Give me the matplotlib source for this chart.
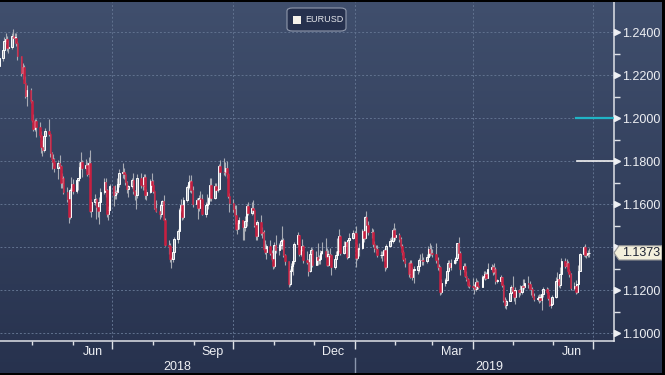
import numpy as np
import pandas as pd
import matplotlib
matplotlib.use('Agg')
import matplotlib.pyplot as plt
import matplotlib.dates as mdates
import matplotlib.transforms as mtransforms
from matplotlib.colors import LinearSegmentedColormap
from matplotlib.patches import Polygon, FancyBboxPatch, Rectangle
from matplotlib.lines import Line2D

plt.rcParams['font.family'] = ['Liberation Sans', 'DejaVu Sans']

# EURUSD daily candles, one line per week
days = pd.bdate_range('2018-04-05', '2019-06-28')

opens = [
    1.2275, 1.2240,
    1.2280, 1.2318, 1.2357, 1.2370, 1.2328,
    1.2330, 1.2381, 1.2373, 1.2374, 1.2347,
    1.2288, 1.2210, 1.2236, 1.2165, 1.2105,
    1.2130, 1.2078, 1.1991, 1.1951, 1.1985,
    1.1960, 1.1923, 1.1866, 1.1851, 1.1916,
    1.1940, 1.1926, 1.1837, 1.1808, 1.1795,
    1.1768, 1.1789, 1.1778, 1.1696, 1.1722,
    1.1655, 1.1625, 1.1538, 1.1664, 1.1693,
    1.1659, 1.1714, 1.1720, 1.1773, 1.1796,
    1.1767, 1.1780, 1.1741, 1.1789, 1.1570,
    1.1610, 1.1623, 1.1585, 1.1569, 1.1608,
    1.1657, 1.1703, 1.1664, 1.1556, 1.1573,
    1.1684, 1.1644, 1.1658, 1.1655, 1.1694,
    1.1743, 1.1749, 1.1742, 1.1702, 1.1669,
    1.1686, 1.1710, 1.1661, 1.1642, 1.1644,
    1.1719, 1.1690, 1.1683, 1.1727, 1.1641,
    1.1658, 1.1707, 1.1690, 1.1660, 1.1584,
    1.1567, 1.1552, 1.1597, 1.1613, 1.1526,
    1.1410, 1.1404, 1.1345, 1.1346, 1.1378,
    1.1437, 1.1476, 1.1572, 1.1596, 1.1539,
    1.1620, 1.1679, 1.1701, 1.1707, 1.1667,
    1.1601, 1.1620, 1.1581, 1.1626, 1.1623,
    1.1552, 1.1595, 1.1598, 1.1627, 1.1690,
    1.1626, 1.1685, 1.1667, 1.1669, 1.1777,
    1.1750, 1.1747, 1.1766, 1.1740, 1.1638,
    1.1604, 1.1578, 1.1549, 1.1482, 1.1512,
    1.1524, 1.1491, 1.1491, 1.1523, 1.1593,
    1.1559, 1.1581, 1.1573, 1.1502, 1.1451,
    1.1515, 1.1465, 1.1469, 1.1390, 1.1375,
    1.1404, 1.1372, 1.1345, 1.1312, 1.1408,
    1.1388, 1.1408, 1.1428, 1.1432, 1.1364,
    1.1335, 1.1226, 1.1290, 1.1310, 1.1335,
    1.1415, 1.1454, 1.1369, 1.1384, 1.1404,
    1.1338, 1.1329, 1.1290, 1.1367, 1.1388,
    1.1315, 1.1352, 1.1342, 1.1344, 1.1374,
    1.1381, 1.1355, 1.1317, 1.1369, 1.1363,
    1.1306, 1.1346, 1.1362, 1.1381, 1.1450,
    1.1371, 1.1404, 1.1422, 1.1352, 1.1431,
    1.1443, 1.1467, 1.1464, 1.1347, 1.1391,
    1.1395, 1.1475, 1.1443, 1.1539, 1.1502,
    1.1468, 1.1472, 1.1412, 1.1395, 1.1389,
    1.1362, 1.1362, 1.1364, 1.1384, 1.1307,
    1.1405, 1.1429, 1.1429, 1.1478, 1.1448,
    1.1456, 1.1438, 1.1405, 1.1379, 1.1343,
    1.1325, 1.1276, 1.1327, 1.1261, 1.1295,
    1.1295, 1.1311, 1.1342, 1.1338, 1.1338,
    1.1337, 1.1356, 1.1393, 1.1371, 1.1371,
    1.1366, 1.1340, 1.1307, 1.1305, 1.1192,
    1.1234, 1.1247, 1.1289, 1.1326, 1.1306,
    1.1328, 1.1339, 1.1350, 1.1417, 1.1373,
    1.1298, 1.1311, 1.1266, 1.1252, 1.1224,
    1.1217, 1.1213, 1.1203, 1.1237, 1.1220,
    1.1216, 1.1263, 1.1267, 1.1276, 1.1257,
    1.1297, 1.1307, 1.1282, 1.1296, 1.1242,
    1.1244, 1.1259, 1.1223, 1.1155, 1.1131,
    1.1151, 1.1184, 1.1215, 1.1195, 1.1170,
    1.1200, 1.1192, 1.1193, 1.1221, 1.1214,
    1.1235, 1.1227, 1.1206, 1.1204, 1.1174,
    1.1157, 1.1163, 1.1163, 1.1152, 1.1181,
    1.1205, 1.1192, 1.1162, 1.1130, 1.1133,
    1.1168, 1.1242, 1.1252, 1.1223, 1.1276,
    1.1333, 1.1311, 1.1326, 1.1290, 1.1275,
    1.1208, 1.1218, 1.1193, 1.1228, 1.1290,
    1.1369, 1.1401, 1.1364, 1.1368, 1.1372,
]

highs = [
    1.2286, 1.2294,
    1.2337, 1.2376, 1.2396, 1.2384, 1.2362,
    1.2397, 1.2414, 1.2396, 1.2398, 1.2357,
    1.2290, 1.2255, 1.2247, 1.2196, 1.2155,
    1.2139, 1.2085, 1.2019, 1.1997, 1.1996,
    1.1982, 1.1939, 1.1896, 1.1932, 1.1955,
    1.1996, 1.1930, 1.1843, 1.1834, 1.1812,
    1.1805, 1.1829, 1.1781, 1.1744, 1.1730,
    1.1681, 1.1640, 1.1676, 1.1726, 1.1718,
    1.1720, 1.1723, 1.1797, 1.1840, 1.1806,
    1.1811, 1.1796, 1.1819, 1.1852, 1.1622,
    1.1645, 1.1630, 1.1601, 1.1632, 1.1675,
    1.1719, 1.1721, 1.1672, 1.1590, 1.1692,
    1.1686, 1.1691, 1.1665, 1.1720, 1.1765,
    1.1791, 1.1768, 1.1748, 1.1709, 1.1688,
    1.1720, 1.1746, 1.1667, 1.1648, 1.1738,
    1.1746, 1.1716, 1.1740, 1.1741, 1.1671,
    1.1718, 1.1746, 1.1714, 1.1667, 1.1617,
    1.1593, 1.1610, 1.1620, 1.1641, 1.1533,
    1.1431, 1.1421, 1.1355, 1.1391, 1.1447,
    1.1484, 1.1580, 1.1623, 1.1601, 1.1631,
    1.1688, 1.1734, 1.1713, 1.1733, 1.1685,
    1.1627, 1.1623, 1.1642, 1.1659, 1.1646,
    1.1608, 1.1645, 1.1633, 1.1720, 1.1721,
    1.1697, 1.1700, 1.1701, 1.1787, 1.1803,
    1.1815, 1.1794, 1.1799, 1.1746, 1.1652,
    1.1624, 1.1594, 1.1594, 1.1525, 1.1538,
    1.1525, 1.1503, 1.1545, 1.1598, 1.1610,
    1.1608, 1.1621, 1.1580, 1.1509, 1.1527,
    1.1549, 1.1495, 1.1478, 1.1434, 1.1414,
    1.1433, 1.1385, 1.1360, 1.1424, 1.1456,
    1.1419, 1.1438, 1.1500, 1.1444, 1.1370,
    1.1337, 1.1300, 1.1327, 1.1354, 1.1423,
    1.1472, 1.1456, 1.1404, 1.1436, 1.1409,
    1.1383, 1.1344, 1.1387, 1.1401, 1.1394,
    1.1380, 1.1419, 1.1363, 1.1386, 1.1423,
    1.1442, 1.1397, 1.1384, 1.1395, 1.1366,
    1.1355, 1.1383, 1.1440, 1.1486, 1.1455,
    1.1427, 1.1426, 1.1431, 1.1440, 1.1467,
    1.1478, 1.1474, 1.1498, 1.1412, 1.1420,
    1.1483, 1.1486, 1.1545, 1.1570, 1.1521,
    1.1487, 1.1485, 1.1426, 1.1408, 1.1409,
    1.1380, 1.1382, 1.1392, 1.1395, 1.1416,
    1.1440, 1.1448, 1.1490, 1.1514, 1.1488,
    1.1466, 1.1447, 1.1412, 1.1384, 1.1349,
    1.1330, 1.1341, 1.1342, 1.1305, 1.1310,
    1.1320, 1.1350, 1.1370, 1.1371, 1.1354,
    1.1366, 1.1404, 1.1420, 1.1408, 1.1391,
    1.1420, 1.1354, 1.1320, 1.1310, 1.1250,
    1.1257, 1.1306, 1.1338, 1.1339, 1.1345,
    1.1353, 1.1362, 1.1420, 1.1448, 1.1382,
    1.1327, 1.1324, 1.1287, 1.1257, 1.1240,
    1.1255, 1.1227, 1.1255, 1.1248, 1.1240,
    1.1272, 1.1288, 1.1287, 1.1285, 1.1324,
    1.1323, 1.1316, 1.1324, 1.1306, 1.1251,
    1.1268, 1.1263, 1.1229, 1.1166, 1.1160,
    1.1189, 1.1225, 1.1265, 1.1199, 1.1212,
    1.1206, 1.1225, 1.1222, 1.1250, 1.1251,
    1.1264, 1.1240, 1.1226, 1.1213, 1.1185,
    1.1175, 1.1182, 1.1180, 1.1187, 1.1216,
    1.1215, 1.1209, 1.1175, 1.1145, 1.1175,
    1.1259, 1.1285, 1.1270, 1.1309, 1.1348,
    1.1347, 1.1345, 1.1335, 1.1297, 1.1280,
    1.1237, 1.1245, 1.1228, 1.1318, 1.1371,
    1.1404, 1.1412, 1.1382, 1.1385, 1.1394,
]

lows = [
    1.2216, 1.2225,
    1.2265, 1.2305, 1.2346, 1.2312, 1.2304,
    1.2322, 1.2346, 1.2351, 1.2333, 1.2268,
    1.2198, 1.2183, 1.2161, 1.2095, 1.2055,
    1.2071, 1.1984, 1.1938, 1.1939, 1.1910,
    1.1913, 1.1838, 1.1822, 1.1844, 1.1902,
    1.1916, 1.1818, 1.1763, 1.1775, 1.1750,
    1.1717, 1.1761, 1.1676, 1.1677, 1.1645,
    1.1608, 1.1510, 1.1530, 1.1643, 1.1646,
    1.1651, 1.1666, 1.1707, 1.1761, 1.1727,
    1.1760, 1.1730, 1.1725, 1.1562, 1.1541,
    1.1596, 1.1531, 1.1542, 1.1509, 1.1604,
    1.1646, 1.1633, 1.1541, 1.1527, 1.1571,
    1.1592, 1.1625, 1.1625, 1.1645, 1.1680,
    1.1722, 1.1717, 1.1688, 1.1650, 1.1632,
    1.1674, 1.1646, 1.1620, 1.1575, 1.1630,
    1.1677, 1.1664, 1.1664, 1.1625, 1.1621,
    1.1652, 1.1680, 1.1650, 1.1578, 1.1563,
    1.1530, 1.1540, 1.1579, 1.1526, 1.1406,
    1.1366, 1.1332, 1.1301, 1.1331, 1.1363,
    1.1417, 1.1467, 1.1563, 1.1528, 1.1531,
    1.1610, 1.1672, 1.1654, 1.1650, 1.1585,
    1.1581, 1.1530, 1.1570, 1.1604, 1.1548,
    1.1540, 1.1571, 1.1579, 1.1615, 1.1616,
    1.1622, 1.1644, 1.1655, 1.1665, 1.1729,
    1.1733, 1.1730, 1.1722, 1.1626, 1.1565,
    1.1565, 1.1506, 1.1478, 1.1463, 1.1486,
    1.1431, 1.1432, 1.1477, 1.1497, 1.1548,
    1.1549, 1.1553, 1.1493, 1.1432, 1.1433,
    1.1454, 1.1443, 1.1386, 1.1368, 1.1344,
    1.1362, 1.1337, 1.1300, 1.1302, 1.1374,
    1.1365, 1.1391, 1.1390, 1.1355, 1.1316,
    1.1216, 1.1221, 1.1264, 1.1268, 1.1320,
    1.1400, 1.1359, 1.1358, 1.1380, 1.1324,
    1.1319, 1.1267, 1.1285, 1.1366, 1.1305,
    1.1315, 1.1318, 1.1319, 1.1322, 1.1367,
    1.1352, 1.1310, 1.1313, 1.1354, 1.1269,
    1.1297, 1.1327, 1.1359, 1.1375, 1.1362,
    1.1367, 1.1398, 1.1346, 1.1348, 1.1419,
    1.1438, 1.1449, 1.1309, 1.1338, 1.1360,
    1.1393, 1.1425, 1.1439, 1.1487, 1.1455,
    1.1441, 1.1398, 1.1377, 1.1371, 1.1353,
    1.1351, 1.1335, 1.1335, 1.1289, 1.1296,
    1.1401, 1.1411, 1.1419, 1.1444, 1.1434,
    1.1425, 1.1394, 1.1363, 1.1334, 1.1308,
    1.1263, 1.1257, 1.1259, 1.1249, 1.1234,
    1.1273, 1.1283, 1.1327, 1.1318, 1.1315,
    1.1328, 1.1334, 1.1360, 1.1361, 1.1352,
    1.1327, 1.1294, 1.1287, 1.1176, 1.1180,
    1.1219, 1.1240, 1.1277, 1.1297, 1.1294,
    1.1323, 1.1327, 1.1339, 1.1364, 1.1272,
    1.1282, 1.1261, 1.1241, 1.1212, 1.1211,
    1.1205, 1.1183, 1.1196, 1.1211, 1.1206,
    1.1212, 1.1252, 1.1247, 1.1251, 1.1254,
    1.1290, 1.1270, 1.1276, 1.1226, 1.1231,
    1.1230, 1.1214, 1.1143, 1.1118, 1.1111,
    1.1147, 1.1163, 1.1190, 1.1150, 1.1136,
    1.1167, 1.1175, 1.1180, 1.1195, 1.1205,
    1.1210, 1.1204, 1.1178, 1.1166, 1.1150,
    1.1151, 1.1140, 1.1145, 1.1107, 1.1170,
    1.1185, 1.1154, 1.1124, 1.1116, 1.1130,
    1.1162, 1.1226, 1.1212, 1.1209, 1.1252,
    1.1302, 1.1301, 1.1280, 1.1261, 1.1202,
    1.1200, 1.1181, 1.1184, 1.1225, 1.1290,
    1.1357, 1.1355, 1.1347, 1.1354, 1.1356,
]

closes = [
    1.2240, 1.2280,
    1.2318, 1.2357, 1.2370, 1.2328, 1.2330,
    1.2381, 1.2373, 1.2374, 1.2347, 1.2288,
    1.2210, 1.2236, 1.2165, 1.2105, 1.2130,
    1.2078, 1.1991, 1.1951, 1.1985, 1.1960,
    1.1923, 1.1866, 1.1851, 1.1916, 1.1940,
    1.1926, 1.1837, 1.1808, 1.1795, 1.1768,
    1.1789, 1.1778, 1.1696, 1.1722, 1.1655,
    1.1625, 1.1538, 1.1664, 1.1693, 1.1659,
    1.1714, 1.1720, 1.1773, 1.1796, 1.1767,
    1.1780, 1.1741, 1.1789, 1.1570, 1.1610,
    1.1623, 1.1585, 1.1569, 1.1608, 1.1657,
    1.1703, 1.1664, 1.1556, 1.1573, 1.1684,
    1.1644, 1.1658, 1.1655, 1.1694, 1.1743,
    1.1749, 1.1742, 1.1702, 1.1669, 1.1686,
    1.1710, 1.1661, 1.1642, 1.1644, 1.1719,
    1.1690, 1.1683, 1.1727, 1.1641, 1.1658,
    1.1707, 1.1690, 1.1660, 1.1584, 1.1567,
    1.1552, 1.1597, 1.1613, 1.1526, 1.1410,
    1.1404, 1.1345, 1.1346, 1.1378, 1.1437,
    1.1476, 1.1572, 1.1596, 1.1539, 1.1620,
    1.1679, 1.1701, 1.1707, 1.1667, 1.1601,
    1.1620, 1.1581, 1.1626, 1.1623, 1.1552,
    1.1595, 1.1598, 1.1627, 1.1690, 1.1626,
    1.1685, 1.1667, 1.1669, 1.1777, 1.1750,
    1.1747, 1.1766, 1.1740, 1.1638, 1.1604,
    1.1578, 1.1549, 1.1482, 1.1512, 1.1524,
    1.1491, 1.1491, 1.1523, 1.1593, 1.1559,
    1.1581, 1.1573, 1.1502, 1.1451, 1.1515,
    1.1465, 1.1469, 1.1390, 1.1375, 1.1404,
    1.1372, 1.1345, 1.1312, 1.1408, 1.1388,
    1.1408, 1.1428, 1.1432, 1.1364, 1.1335,
    1.1226, 1.1290, 1.1310, 1.1335, 1.1415,
    1.1454, 1.1369, 1.1384, 1.1404, 1.1338,
    1.1329, 1.1290, 1.1367, 1.1388, 1.1315,
    1.1352, 1.1342, 1.1344, 1.1374, 1.1381,
    1.1355, 1.1317, 1.1369, 1.1363, 1.1306,
    1.1346, 1.1362, 1.1381, 1.1450, 1.1371,
    1.1404, 1.1422, 1.1352, 1.1431, 1.1443,
    1.1467, 1.1464, 1.1347, 1.1391, 1.1395,
    1.1475, 1.1443, 1.1539, 1.1502, 1.1468,
    1.1472, 1.1412, 1.1395, 1.1389, 1.1362,
    1.1362, 1.1364, 1.1384, 1.1307, 1.1405,
    1.1429, 1.1429, 1.1478, 1.1448, 1.1456,
    1.1438, 1.1405, 1.1379, 1.1343, 1.1325,
    1.1276, 1.1327, 1.1261, 1.1295, 1.1295,
    1.1311, 1.1342, 1.1338, 1.1338, 1.1337,
    1.1356, 1.1393, 1.1371, 1.1371, 1.1366,
    1.1340, 1.1307, 1.1305, 1.1192, 1.1234,
    1.1247, 1.1289, 1.1326, 1.1306, 1.1328,
    1.1339, 1.1350, 1.1417, 1.1373, 1.1298,
    1.1311, 1.1266, 1.1252, 1.1224, 1.1217,
    1.1213, 1.1203, 1.1237, 1.1220, 1.1216,
    1.1263, 1.1267, 1.1276, 1.1257, 1.1297,
    1.1307, 1.1282, 1.1296, 1.1242, 1.1244,
    1.1259, 1.1223, 1.1155, 1.1131, 1.1151,
    1.1184, 1.1215, 1.1195, 1.1170, 1.1200,
    1.1192, 1.1193, 1.1221, 1.1214, 1.1235,
    1.1227, 1.1206, 1.1204, 1.1174, 1.1157,
    1.1163, 1.1163, 1.1152, 1.1181, 1.1205,
    1.1192, 1.1162, 1.1130, 1.1133, 1.1168,
    1.1242, 1.1252, 1.1223, 1.1276, 1.1333,
    1.1311, 1.1326, 1.1290, 1.1275, 1.1208,
    1.1218, 1.1193, 1.1228, 1.1290, 1.1369,
    1.1401, 1.1364, 1.1368, 1.1372, 1.1373,
]

y_ticks = [1.10, 1.12, 1.14, 1.16, 1.18, 1.20, 1.22, 1.24]
month_labels = ['Jun', 'Sep', 'Dec', 'Mar', 'Jun']
month_label_dates = ['2018-06-16', '2018-09-15', '2018-12-16', '2019-03-16', '2019-06-15']
year_labels = ['2018', '2019']
year_label_dates = ['2018-08-19', '2019-04-13']
last_price = closes[-1]
cyan_level = 1.20
white_level = 1.18

# --- figure + gradient background
W, H = 665, 375
fig = plt.figure(figsize=(W / 100, H / 100), dpi=100)
bg = fig.add_axes([0, 0, 1, 1], zorder=-5)
grad = np.linspace(0, 1, 256).reshape(-1, 1)
cmap = LinearSegmentedColormap.from_list('bg', ['#404f6d', '#27324e'])
bg.imshow(grad, aspect='auto', cmap=cmap, extent=[0, 1, 0, 1], origin='upper')
bg.axis('off')

ax = fig.add_axes([0, 34 / H, 614 / W, 339 / H])
ax.patch.set_alpha(0)

x = mdates.date2num(days)
o = np.array(opens)
h = np.array(highs)
l = np.array(lows)
c = np.array(closes)

# wicks
ax.vlines(x, l, h, color='#a7abb4', lw=0.8, zorder=2)
# bodies
up = c >= o
body = np.maximum(np.abs(c - o), 0.00025)
ax.bar(x[up], body[up], bottom=np.minimum(o, c)[up], width=1.2,
       facecolor='none', edgecolor='white', lw=0.7, zorder=3)
ax.bar(x[~up], body[~up], bottom=np.minimum(o, c)[~up], width=1.2,
       facecolor='#c81f40', edgecolor='#c81f40', lw=0.4, zorder=3)

ax.set_xlim(mdates.date2num(pd.Timestamp('2018-04-06 19:00')),
            mdates.date2num(pd.Timestamp('2019-07-17')))
ax.set_ylim(1.0963, 1.2540)

# grid
grid_kw = dict(color='#61728f', ls=(0, (2, 2)), lw=0.7)
ax.xaxis.set_major_locator(mdates.MonthLocator(bymonth=[1, 4, 7, 10]))
ax.xaxis.set_minor_locator(mdates.MonthLocator())
ax.xaxis.set_major_formatter(plt.NullFormatter())
ax.set_yticks(y_ticks)
ax.set_yticks(np.array(y_ticks[:-1]) + 0.01, minor=True)
ax.grid(True, which='major', **grid_kw)
ax.set_axisbelow(True)

for s in ['left', 'top']:
    ax.spines[s].set_visible(False)
for s in ['bottom', 'right']:
    ax.spines[s].set_color('#dfe2e8')
    ax.spines[s].set_linewidth(1.1)


def price_fmt(v, pos):
    # the last-price tag sits on the 1.1400 level, so that label is hidden
    if abs(v - 1.14) < 1e-6:
        return ''
    return f'{v:.4f}'


ax.yaxis.tick_right()
ax.tick_params(axis='y', which='major', length=0, pad=6, labelsize=9, labelcolor='#eef0f4')
ax.tick_params(axis='y', which='minor', length=4, width=1, color='#dfe2e8', direction='out')
ax.yaxis.set_major_formatter(plt.FuncFormatter(price_fmt))
ax.tick_params(axis='x', which='major', length=6, width=1, color='#dfe2e8', direction='out')
ax.tick_params(axis='x', which='minor', length=3, width=1, color='#dfe2e8', direction='out')

# triangle markers for labelled levels
tr_y = mtransforms.blended_transform_factory(ax.transAxes, ax.transData)
ax.plot([1.0 + 3 / 614] * len(y_ticks), y_ticks, ls='none', marker='>', ms=4.5,
        color='#eef0f4', transform=tr_y, clip_on=False, zorder=5)

# month and year labels
tr_x = mtransforms.blended_transform_factory(ax.transData, ax.transAxes)
for lab, d in zip(month_labels, month_label_dates):
    ax.text(mdates.date2num(pd.Timestamp(d)), -0.031, lab, transform=tr_x,
            ha='center', va='center', fontsize=9, color='#eef0f4')
for lab, d in zip(year_labels, year_label_dates):
    ax.text(mdates.date2num(pd.Timestamp(d)), -0.076, lab, transform=tr_x,
            ha='center', va='center', fontsize=9, color='#eef0f4')
ax.add_line(Line2D([mdates.date2num(pd.Timestamp('2019-01-01'))] * 2, [-0.05, -0.11],
                   transform=tr_x, color='#8a96ad', lw=1, clip_on=False))

# reference levels at the right edge
ax.axhline(cyan_level, xmin=0.938, xmax=1.0, color='#20b4c6', lw=1.6, zorder=4)
ax.axhline(white_level, xmin=0.94, xmax=1.0, color='#f2f2f2', lw=1.2, zorder=4)

# last price tag
hh = 0.0033
tag = Polygon([(1.0, last_price), (1 + 5 / 614, last_price + hh), (1 + 48 / 614, last_price + hh),
               (1 + 48 / 614, last_price - hh), (1 + 5 / 614, last_price - hh)],
              closed=True, transform=tr_y, clip_on=False, facecolor='#f4f0dc',
              edgecolor='#9a9a9a', lw=0.8, zorder=10)
ax.add_patch(tag)
ax.text(1 + 27 / 614, last_price, f'{last_price:.4f}', transform=tr_y, ha='center', va='center',
        fontsize=9, color='#1c2233', zorder=11, clip_on=False)

# legend box
fig.patches.append(FancyBboxPatch((287 / W, 1 - 31 / H), 59 / W, 23 / H,
                                  boxstyle='round,pad=0,rounding_size=0.008',
                                  transform=fig.transFigure, facecolor='#26314e',
                                  edgecolor='#9099ac', lw=0.8, zorder=20))
fig.patches.append(Rectangle((293 / W, 1 - 24 / H), 8 / W, 8 / H, transform=fig.transFigure,
                             facecolor='#f4f1ea', edgecolor='none', zorder=21))
fig.text(305 / W, 1 - 20 / H, 'EURUSD', fontsize=6.5, color='#e4e6ec', va='center', zorder=22)

# thin black frame at the top, right and bottom
fig.patches.append(Rectangle((0, 1 - 1.5 / H), 1, 1.5 / H, transform=fig.transFigure,
                             facecolor='black', edgecolor='none', zorder=30))
fig.patches.append(Rectangle((1 - 3 / W, 0), 3 / W, 1, transform=fig.transFigure,
                             facecolor='black', edgecolor='none', zorder=30))
fig.patches.append(Rectangle((0, 0), 1, 2 / H, transform=fig.transFigure,
                             facecolor='black', edgecolor='none', zorder=30))

fig.savefig('out.png', dpi=100)
